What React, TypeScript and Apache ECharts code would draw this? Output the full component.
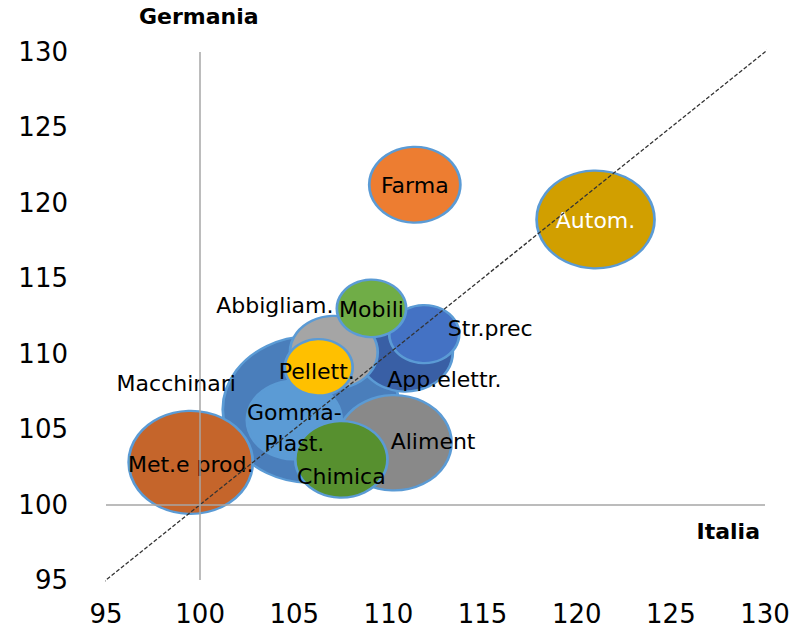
import React, { useEffect, useRef } from "react";
import * as echarts from "echarts";

// ---- Data ----
const sectors = [
  "Macchinari",
  "Met.e prod.",
  "Autom.",
  "Aliment",
  "App.elettr.",
  "Gomma-\nPlast.",
  "Chimica",
  "Farma",
  "Abbigliam.",
  "Str.prec",
  "Mobili",
  "Pellett.",
];
const italia = [105.9, 99.5, 121.0, 110.3, 110.9, 105.0, 107.5, 111.4, 107.1, 111.9, 109.1, 106.3];
const germania = [106.3, 102.8, 118.9, 104.1, 110.1, 105.6, 103.0, 121.2, 110.1, 111.3, 113.0, 109.1];
const weights = [313, 154, 139, 132, 90, 90, 85, 83, 77, 49, 48, 46];

const axisMin = 95;
const axisMax = 130;
const axisStep = 5;
const crossAt = 100;
const diagonalRange = [94.8, 130.4];

// ---- Styles ----
const fillColors: Record<string, string> = {
  "Macchinari": "#4A7EBB",
  "Met.e prod.": "#C5652B",
  "Autom.": "#D19F00",
  "Aliment": "#898989",
  "App.elettr.": "#395FA5",
  "Gomma-\nPlast.": "#5B9BD5",
  "Chimica": "#57902F",
  "Farma": "#ED7D31",
  "Abbigliam.": "#A5A5A5",
  "Str.prec": "#4472C4",
  "Mobili": "#70AD47",
  "Pellett.": "#FFC000",
};
const labelOffsets: Record<string, [number, number]> = {
  "Macchinari": [-135, -26],
  "Met.e prod.": [0, 2],
  "Autom.": [0, 1],
  "Aliment": [39, -1],
  "App.elettr.": [39, 27],
  "Gomma-\nPlast.": [0, 8],
  "Chimica": [0, 17],
  "Farma": [0, 1],
  "Abbigliam.": [-59, -47],
  "Str.prec": [66, -6],
  "Mobili": [0, 1],
  "Pellett.": [-2, 4],
};
const labelColors: Record<string, string> = { "Autom.": "#FFFFFF" };

const FONT = "DejaVu Sans";

export default function App() {
  const ref = useRef<HTMLDivElement>(null);

  useEffect(() => {
    if (!ref.current) return;
    const chart = echarts.init(ref.current, undefined, { renderer: "svg" });

    const bubbleData = sectors.map((name, i) => ({
      name,
      value: [italia[i], germania[i], weights[i]],
      itemStyle: {
        color: fillColors[name],
        borderColor: "#5B9BD5",
        borderWidth: 2.5,
        opacity: 1,
      },
      label: {
        show: true,
        position: "inside",
        offset: labelOffsets[name],
        color: labelColors[name] || "#000000",
        fontSize: 22,
        lineHeight: 31,
        fontFamily: FONT,
        formatter: "{b}",
      },
    }));

    const axisCommon = {
      type: "value" as const,
      min: axisMin,
      max: axisMax,
      interval: axisStep,
      splitLine: { show: false },
      axisLine: { show: false },
      axisTick: { show: false },
    };

    chart.setOption({
      animation: false,
      backgroundColor: "#FFFFFF",
      grid: { left: 106, right: 29, top: 52, bottom: 55, containLabel: false },
      xAxis: {
        ...axisCommon,
        axisLabel: { fontSize: 26, color: "#000", fontFamily: FONT, margin: 21 },
      },
      yAxis: {
        ...axisCommon,
        axisLabel: { fontSize: 26, color: "#000", fontFamily: FONT, margin: 38 },
      },
      graphic: [
        {
          type: "text",
          left: 139,
          top: 5,
          style: { text: "Germania", font: `bold 22px "${FONT}"`, fill: "#000" },
        },
        {
          type: "text",
          right: 34,
          top: 520,
          style: { text: "Italia", font: `bold 22px "${FONT}"`, fill: "#000" },
        },
      ],
      series: [
        {
          type: "scatter",
          z: 1,
          data: [],
          silent: true,
          markLine: {
            silent: true,
            symbol: "none",
            label: { show: false },
            lineStyle: { color: "#A6A6A6", width: 1.5, type: "solid" },
            data: [{ xAxis: crossAt }, { yAxis: crossAt }],
          },
        },
        {
          type: "scatter",
          z: 2,
          data: bubbleData,
          symbol: "circle",
          symbolSize: (v: number[]) => {
            const w = 10 * Math.sqrt(v[2]);
            return [w, w * 0.83];
          },
          emphasis: { disabled: true },
        },
        {
          type: "line",
          z: 3,
          clip: false,
          silent: true,
          symbol: "none",
          data: [
            [diagonalRange[0], diagonalRange[0]],
            [diagonalRange[1], diagonalRange[1]],
          ],
          lineStyle: { color: "#333333", width: 1.3, type: [4, 2] },
        },
      ],
    });

    return () => chart.dispose();
  }, []);

  return (
    <div
      ref={ref}
      style={{ position: "fixed", left: 0, top: 0, width: 794, height: 635 }}
    />
  );
}
